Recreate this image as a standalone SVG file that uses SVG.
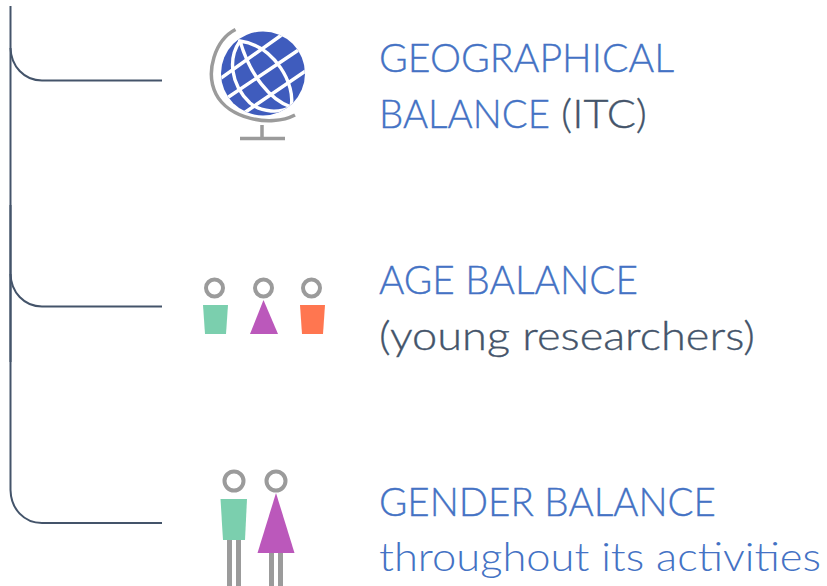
<svg xmlns="http://www.w3.org/2000/svg" width="827" height="586" viewBox="0 0 827 586">
<style>
.conn{fill:none;stroke:#44546a;stroke-width:2}
.gr{fill:none;stroke:#9b9b9b;stroke-width:3.500}
.t{font-family:"Lato","Carlito","Liberation Sans",sans-serif;font-weight:300;font-size:40px;stroke-width:.35px}
.l{stroke-width:0}
.b{fill:#4472c4;stroke:#4472c4}
.d{fill:#44546a;stroke:#44546a}
.grid{fill:none;stroke:#fff;stroke-width:3.400}
.ring{fill:none;stroke:#9b9b9b;stroke-width:4}
.leg{fill:#9b9b9b}
.green{fill:#7bcfae}
.purple{fill:#bb58bb}
.orange{fill:#ff7650}
</style>
<defs>
<clipPath id="gc"><circle cx="263" cy="73.500" r="42"/></clipPath>
</defs>
<g id="connectors">
<path class="conn" d="M10.500 6V205"/>
<path class="conn" d="M10.500 48C11 66 24 80.500 42 80.500H162"/>
<path class="conn" style="stroke-width:2.500" d="M10.500 205V362"/>
<path class="conn" d="M10.500 274C11 292 24 306.500 42 306.500H162"/>
<path class="conn" d="M10.500 362V490C11 509 24 523 42 523H162"/>
</g>
<g id="geo">
<circle cx="263" cy="73.500" r="42" fill="#3f5cbd"/>
<g clip-path="url(#gc)">
<path class="grid" d="M221 78L283 34M227 98L300 49M244 113L310 68"/>
<path class="grid" d="M240 41C250 75 270 100 291 107C296 85 275 46 240 41Z"/>
<path class="grid" d="M240 41C228 58 230 84 250 103C262 113 280 113 291 107"/>
</g>
<path class="gr" d="M235.500 29.500C215 40 205 72 216 94C228 118 270 128 295 115"/>
<path class="gr" d="M262 125V138M240 138.500H285"/>
<text class="t b" x="379" y="72" textLength="295" lengthAdjust="spacingAndGlyphs">GEOGRAPHICAL</text>
<text class="t b" x="379" y="128" textLength="171" lengthAdjust="spacingAndGlyphs">BALANCE</text>
<text class="t d" x="561" y="128" textLength="86" lengthAdjust="spacingAndGlyphs">(ITC)</text>
</g>
<g id="age">
<circle class="ring" cx="214.500" cy="288" r="8.500"/>
<path class="green" d="M203 305H228L226 334H205Z"/>
<circle class="ring" cx="263.500" cy="288" r="8.500"/>
<path class="purple" d="M263.500 300L278 334H250Z"/>
<circle class="ring" cx="311.500" cy="288" r="8.500"/>
<path class="orange" d="M300 305H325L323 334H302Z"/>
<text class="t b" x="379" y="294" textLength="259" lengthAdjust="spacingAndGlyphs">AGE BALANCE</text>
<text class="t d" x="379" y="350" textLength="376" lengthAdjust="spacingAndGlyphs">(young researchers)</text>
</g>
<g id="gender">
<circle class="ring" cx="234" cy="481" r="9.500"/>
<path class="green" d="M220.500 499H247L245 540H223Z"/>
<rect class="leg" x="227" y="540" width="5" height="46"/>
<rect class="leg" x="236" y="540" width="5" height="46"/>
<circle class="ring" cx="276" cy="481" r="9.500"/>
<path class="purple" d="M276 493L294.500 553H257.500Z"/>
<rect class="leg" x="269" y="553" width="5" height="33"/>
<rect class="leg" x="278" y="553" width="5" height="33"/>
<text class="t b" x="379" y="516" textLength="337" lengthAdjust="spacingAndGlyphs">GENDER BALANCE</text>
<text class="t b l" x="379" y="571" textLength="442" lengthAdjust="spacingAndGlyphs">throughout its activities</text>
</g>
</svg>
